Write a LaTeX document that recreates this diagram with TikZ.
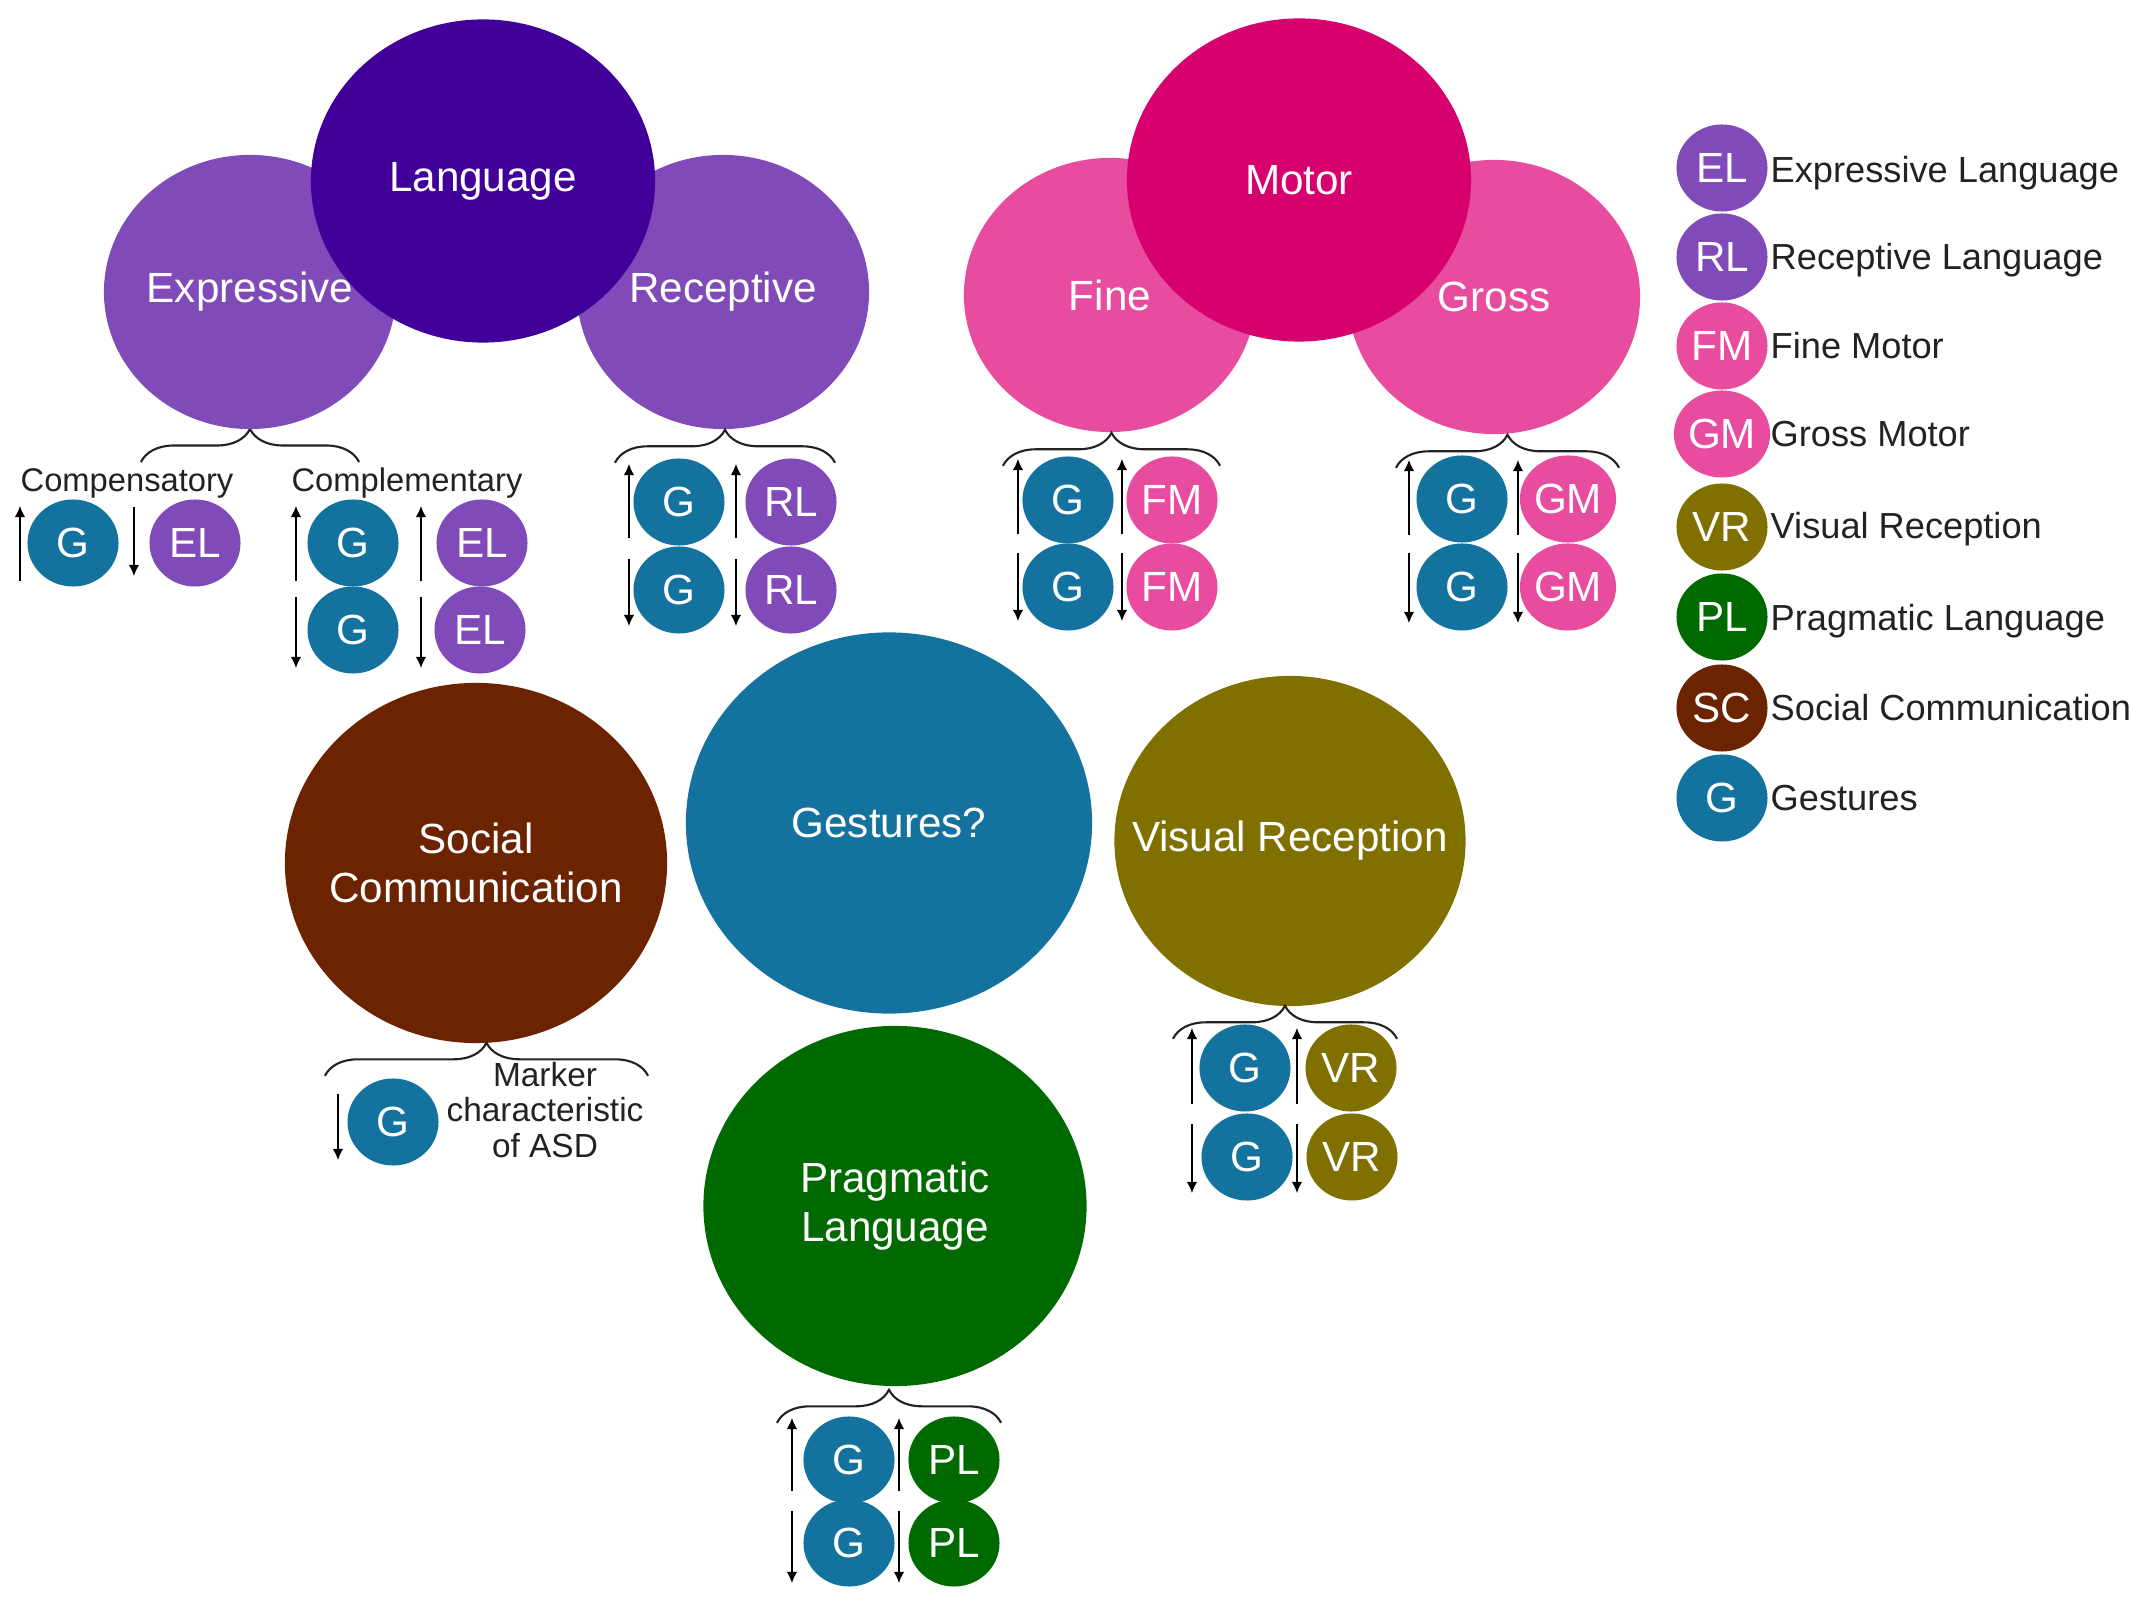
\documentclass[tikz,border=0pt]{standalone}
\usepackage{fontspec}
\setmainfont{Liberation Sans}
\usetikzlibrary{shapes.geometric, decorations.pathreplacing, arrows.meta}

\definecolor{LanguageColor}{RGB}{64,0,153}
\definecolor{ExpressiveColor}{RGB}{128,74,184}
\definecolor{MotorColor}{RGB}{214,0,110}
\definecolor{FineColor}{RGB}{232,76,158}
\definecolor{GestureColor}{RGB}{20,115,158}
\definecolor{SocialColor}{RGB}{107,35,0}
\definecolor{VisualColor}{RGB}{128,112,0}
\definecolor{PragmaticColor}{RGB}{0,106,0}
\definecolor{TextColor}{RGB}{34,34,34}

\tikzstyle{ts-circle-base}=[ellipse,
                            inner sep=0pt,
                            text=white,
                            align=center,
                            font=\fontsize{12}{14}\selectfont,
                           ]
\tikzstyle{domain-big}=[ts-circle-base,
                        inner xsep=-0.6cm,
                        inner ysep=-0.2cm]
\tikzstyle{domain-main}=[domain-big,
                         minimum width=3.44cm,
                         minimum height=3.23cm]
\tikzstyle{domain-sub}=[domain-big,
                        minimum width=2.92cm,
                        minimum height=2.74cm]
\tikzstyle{badge}=[ts-circle-base,
                   minimum width=0.91cm,
                   minimum height=0.87cm]
\tikzstyle{brace-line}=[decorate, decoration={brace, amplitude=0.33cm},
                        draw=TextColor, line width=0.6pt]
\tikzstyle{small-text}=[inner sep=0pt, text=TextColor, align=center,
                        font=\fontsize{9.3}{9.7}\selectfont]
\tikzstyle{legend-text}=[anchor=base west, inner sep=0pt, text=TextColor,
                         font=\fontsize{10.3}{12}\selectfont]
\tikzstyle{trend}=[-{Latex[length=3.2pt, width=3pt]}, line width=0.6pt, draw=black]

\begin{document}
\begin{tikzpicture}[x=0.01cm, y=-0.01cm]
\fill[white] (0,0) rectangle (2129,1604);
\useasboundingbox (0,0) rectangle (2129,1604);

% braces under the domains
\draw[brace-line] ([xshift=-1.09cm, yshift=-0.33cm]250,429) -- ([xshift=1.09cm, yshift=-0.33cm]250,429);

\node at (250,  292) (lang_expr)   [domain-sub, fill=ExpressiveColor]  {Expressive};
\node at (723,  292) (lang_recp)   [domain-sub, fill=ExpressiveColor]  {Receptive};
\node at (483,  181) (lang_main)   [domain-main, fill=LanguageColor]   {Language};

\node at (1110, 295) (motor_fine)  [domain-sub, fill=FineColor]        {Fine};
\node at (1494, 297) (motor_gross) [domain-sub, fill=FineColor]        {Gross};
\node at (1299, 180) (motor_main)  [domain-main, fill=MotorColor]      {Motor};

\node at (889,  823) (gest_main)   [domain-big, fill=GestureColor, minimum width=4.06cm, minimum height=3.81cm] {Gestures?};
\node at (476,  863) (social_main) [domain-big, fill=SocialColor, minimum width=3.82cm, minimum height=3.60cm] {Social\\Communication};
\node at (1290, 841) (visual_main) [domain-big, fill=VisualColor, minimum width=3.51cm, minimum height=3.30cm] {Visual Reception};
\node at (895, 1206) (prag_main)   [domain-big, fill=PragmaticColor, minimum width=3.83cm, minimum height=3.60cm] {Pragmatic\\Language};

\draw[brace-line] ([xshift=-1.08cm, yshift=-0.33cm]lang_recp.south)   -- ([xshift=1.12cm, yshift=-0.33cm]lang_recp.south);
\draw[brace-line] ([xshift=-1.07cm, yshift=-0.33cm]motor_fine.south)  -- ([xshift=1.10cm, yshift=-0.33cm]motor_fine.south);
\draw[brace-line] ([xshift=-0.98cm, yshift=-0.33cm]motor_gross.south) -- ([xshift=1.25cm, yshift=-0.33cm]motor_gross.south);
\draw[brace-line] ([xshift=-1.51cm, yshift=-0.32cm]social_main.south) -- ([xshift=1.72cm, yshift=-0.32cm]social_main.south);
\draw[brace-line] ([xshift=-1.17cm, yshift=-0.32cm]visual_main.south) -- ([xshift=1.07cm, yshift=-0.32cm]visual_main.south);
\draw[brace-line] ([xshift=-1.18cm, yshift=-0.36cm]prag_main.south)   -- ([xshift=1.06cm, yshift=-0.36cm]prag_main.south);

% expressive language
\node at (127,  492) (expr_comp)   [small-text, anchor=base] {Compensatory};
\node at (407,  492) (expr_compl)  [small-text, anchor=base] {Complementary};
\node at (73,   543) (comp_g)      [badge, fill=GestureColor]    {G};
\node at (195,  543) (comp_el)     [badge, fill=ExpressiveColor] {EL};
\node at (353,  543) (compl_g1)    [badge, fill=GestureColor]    {G};
\node at (353,  630) (compl_g2)    [badge, fill=GestureColor]    {G};
\node at (482,  543) (compl_el1)   [badge, fill=ExpressiveColor] {EL};
\node at (480,  630) (compl_el2)   [badge, fill=ExpressiveColor] {EL};

% receptive language
\node at (679,  502) (recp_g1)     [badge, fill=GestureColor]    {G};
\node at (679,  590) (recp_g2)     [badge, fill=GestureColor]    {G};
\node at (791,  502) (recp_rl1)    [badge, fill=ExpressiveColor] {RL};
\node at (791,  590) (recp_rl2)    [badge, fill=ExpressiveColor] {RL};

% fine motor
\node at (1068, 500) (fine_g1)     [badge, fill=GestureColor]    {G};
\node at (1068, 587) (fine_g2)     [badge, fill=GestureColor]    {G};
\node at (1172, 500) (fine_fm1)    [badge, fill=FineColor]       {FM};
\node at (1172, 587) (fine_fm2)    [badge, fill=FineColor]       {FM};

% gross motor
\node at (1462, 499) (gross_g1)    [badge, fill=GestureColor]    {G};
\node at (1462, 587) (gross_g2)    [badge, fill=GestureColor]    {G};
\node at (1568, 499) (gross_gm1)   [badge, fill=FineColor]       {GM};
\node at (1568, 587) (gross_gm2)   [badge, fill=FineColor]       {GM};

% visual reception
\node at (1245, 1068) (vis_g1)     [badge, fill=GestureColor]    {G};
\node at (1247, 1157) (vis_g2)     [badge, fill=GestureColor]    {G};
\node at (1351, 1068) (vis_vr1)    [badge, fill=VisualColor]     {VR};
\node at (1352, 1157) (vis_vr2)    [badge, fill=VisualColor]     {VR};

% pragmatic language
\node at (849,  1460) (prag_g1)    [badge, fill=GestureColor]    {G};
\node at (849,  1543) (prag_g2)    [badge, fill=GestureColor]    {G};
\node at (954,  1460) (prag_pl1)   [badge, fill=PragmaticColor]  {PL};
\node at (954,  1543) (prag_pl2)   [badge, fill=PragmaticColor]  {PL};

% social communication
\node at (393,  1122) (soc_g)      [badge, fill=GestureColor]    {G};
\node at (545,  1110) (soc_note)   [small-text, font=\fontsize{9.5}{10.2}\selectfont] {Marker\\characteristic\\of ASD};

% up / down arrows
\draw[trend] ([xshift=-0.53cm, yshift=0.06cm]comp_g.south)    -- ([xshift=-0.53cm, yshift=-0.07cm]comp_g.north);
\draw[trend] ([xshift=-0.61cm, yshift=-0.08cm]comp_el.north)  -- ([xshift=-0.61cm, yshift=0.11cm]comp_el.south);
\draw[trend] ([xshift=-0.57cm, yshift=0.06cm]compl_g1.south)  -- ([xshift=-0.57cm, yshift=-0.07cm]compl_g1.north);
\draw[trend] ([xshift=-0.61cm, yshift=0.06cm]compl_el1.south) -- ([xshift=-0.61cm, yshift=-0.07cm]compl_el1.north);
\draw[trend] ([xshift=-0.57cm, yshift=-0.11cm]compl_g2.north) -- ([xshift=-0.57cm, yshift=0.06cm]compl_g2.south);
\draw[trend] ([xshift=-0.59cm, yshift=-0.11cm]compl_el2.north) -- ([xshift=-0.59cm, yshift=0.06cm]compl_el2.south);

\draw[trend] ([xshift=-0.50cm, yshift=0.08cm]recp_g1.south)   -- ([xshift=-0.50cm, yshift=-0.06cm]recp_g1.north);
\draw[trend] ([xshift=-0.55cm, yshift=0.08cm]recp_rl1.south)  -- ([xshift=-0.55cm, yshift=-0.06cm]recp_rl1.north);
\draw[trend] ([xshift=-0.50cm, yshift=-0.13cm]recp_g2.north)  -- ([xshift=-0.50cm, yshift=0.08cm]recp_g2.south);
\draw[trend] ([xshift=-0.55cm, yshift=-0.13cm]recp_rl2.north) -- ([xshift=-0.55cm, yshift=0.08cm]recp_rl2.south);

\draw[trend] ([xshift=-0.50cm, yshift=0.10cm]fine_g1.south)   -- ([xshift=-0.50cm, yshift=-0.03cm]fine_g1.north);
\draw[trend] ([xshift=-0.50cm, yshift=0.10cm]fine_fm1.south)  -- ([xshift=-0.50cm, yshift=-0.03cm]fine_fm1.north);
\draw[trend] ([xshift=-0.50cm, yshift=-0.10cm]fine_g2.north)  -- ([xshift=-0.50cm, yshift=0.10cm]fine_g2.south);
\draw[trend] ([xshift=-0.50cm, yshift=-0.10cm]fine_fm2.north) -- ([xshift=-0.50cm, yshift=0.10cm]fine_fm2.south);

\draw[trend] ([xshift=-0.53cm, yshift=0.08cm]gross_g1.south)   -- ([xshift=-0.53cm, yshift=-0.05cm]gross_g1.north);
\draw[trend] ([xshift=-0.50cm, yshift=0.08cm]gross_gm1.south)  -- ([xshift=-0.50cm, yshift=-0.05cm]gross_gm1.north);
\draw[trend] ([xshift=-0.53cm, yshift=-0.10cm]gross_g2.north)  -- ([xshift=-0.53cm, yshift=0.08cm]gross_g2.south);
\draw[trend] ([xshift=-0.50cm, yshift=-0.10cm]gross_gm2.north) -- ([xshift=-0.50cm, yshift=0.08cm]gross_gm2.south);

\draw[trend] ([xshift=-0.53cm, yshift=0.08cm]vis_g1.south)   -- ([xshift=-0.53cm, yshift=-0.04cm]vis_g1.north);
\draw[trend] ([xshift=-0.54cm, yshift=0.08cm]vis_vr1.south)  -- ([xshift=-0.54cm, yshift=-0.04cm]vis_vr1.north);
\draw[trend] ([xshift=-0.55cm, yshift=-0.11cm]vis_g2.north)  -- ([xshift=-0.55cm, yshift=0.08cm]vis_g2.south);
\draw[trend] ([xshift=-0.55cm, yshift=-0.11cm]vis_vr2.north) -- ([xshift=-0.55cm, yshift=0.08cm]vis_vr2.south);

\draw[trend] ([xshift=-0.57cm, yshift=0.13cm]prag_g1.south)   -- ([xshift=-0.57cm, yshift=-0.02cm]prag_g1.north);
\draw[trend] ([xshift=-0.55cm, yshift=0.13cm]prag_pl1.south)  -- ([xshift=-0.55cm, yshift=-0.02cm]prag_pl1.north);
\draw[trend] ([xshift=-0.57cm, yshift=-0.12cm]prag_g2.north)  -- ([xshift=-0.57cm, yshift=0.04cm]prag_g2.south);
\draw[trend] ([xshift=-0.55cm, yshift=-0.12cm]prag_pl2.north) -- ([xshift=-0.55cm, yshift=0.04cm]prag_pl2.south);

\draw[trend] ([xshift=-0.55cm, yshift=-0.16cm]soc_g.north)    -- ([xshift=-0.55cm, yshift=0.06cm]soc_g.south);

% legend
\node at (1722, 168) (leg_el) [badge, fill=ExpressiveColor] {EL};
\node at (1722, 257) (leg_rl) [badge, fill=ExpressiveColor] {RL};
\node at (1722, 346) (leg_fm) [badge, fill=FineColor]       {FM};
\node at (1722, 434) (leg_gm) [badge, fill=FineColor]       {GM};
\node at (1722, 527) (leg_vr) [badge, fill=VisualColor]     {VR};
\node at (1722, 617) (leg_pl) [badge, fill=PragmaticColor]  {PL};
\node at (1722, 708) (leg_sc) [badge, fill=SocialColor]     {SC};
\node at (1722, 798) (leg_g)  [badge, fill=GestureColor]    {G};

\node at (1770, 183) (leg_el_text) [legend-text] {Expressive Language};
\node at (1770, 270) (leg_rl_text) [legend-text] {Receptive Language};
\node at (1770, 359) (leg_fm_text) [legend-text] {Fine Motor};
\node at (1770, 447) (leg_gm_text) [legend-text] {Gross Motor};
\node at (1770, 539) (leg_vr_text) [legend-text] {Visual Reception};
\node at (1770, 631) (leg_pl_text) [legend-text] {Pragmatic Language};
\node at (1770, 721) (leg_sc_text) [legend-text] {Social Communication};
\node at (1770, 811) (leg_g_text)  [legend-text] {Gestures};
\end{tikzpicture}
\end{document}
